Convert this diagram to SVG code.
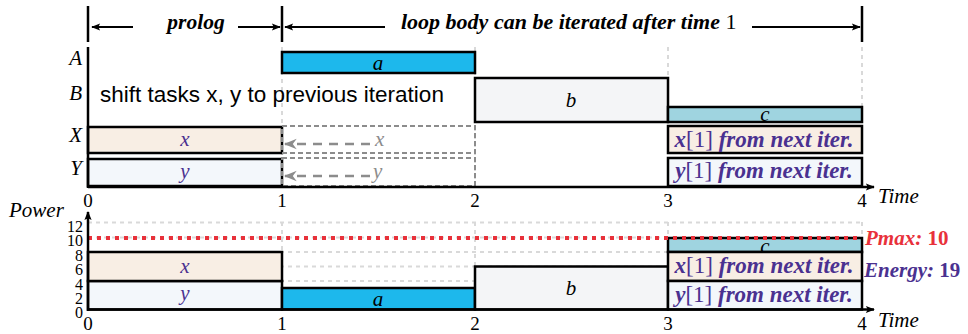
<svg xmlns="http://www.w3.org/2000/svg" width="968" height="334" viewBox="0 0 968 334">
<style>
.box{stroke:#000;stroke-width:2.5}
.grid{stroke:#d9d9d9;stroke-width:2;stroke-dasharray:4 4;fill:none}
.dbox{stroke:#8c8c8c;stroke-width:2;stroke-dasharray:5 3;fill:none}
.axis{stroke:#000;stroke-width:2.5;fill:none}
</style>
<defs>
<marker id="ahs" viewBox="0 0 10 10" refX="9" refY="5" markerWidth="12" markerHeight="9" orient="auto" markerUnits="userSpaceOnUse">
<path d="M0,1 L10,5 L0,9 L2,5 z" fill="#000"/>
</marker>
<marker id="ahg" viewBox="0 0 10 10" refX="9" refY="5" markerWidth="13" markerHeight="13" orient="auto" markerUnits="userSpaceOnUse">
<path d="M0,1 L10,5 L0,9 L3,5 z" fill="#8c8c8c"/>
</marker>
</defs>

<!-- grid lines -->
<g id="grid">
<line class="grid" x1="282" y1="47" x2="282" y2="186"/>
<line class="grid" x1="475" y1="47" x2="475" y2="186"/>
<line class="grid" x1="668" y1="47" x2="668" y2="107"/>
<line class="grid" x1="862" y1="47" x2="862" y2="107"/>
<line class="grid" x1="88" y1="222.5" x2="862" y2="222.5"/>
<line class="grid" x1="88" y1="237.5" x2="862" y2="237.5"/>
<line class="grid" x1="88" y1="252" x2="862" y2="252"/>
<line class="grid" x1="88" y1="266.5" x2="862" y2="266.5"/>
<line class="grid" x1="88" y1="281" x2="862" y2="281"/>
<line class="grid" x1="282" y1="222" x2="282" y2="282"/>
<line class="grid" x1="475" y1="222" x2="475" y2="266"/>
<line class="grid" x1="668" y1="222" x2="668" y2="238"/>
<line class="grid" x1="862" y1="222" x2="862" y2="238"/>
</g>

<!-- header -->
<g id="header">
<line x1="88" y1="6" x2="88" y2="42" stroke="#000" stroke-width="2.5"/>
<line x1="282" y1="6" x2="282" y2="42" stroke="#000" stroke-width="2.5"/>
<line x1="862" y1="6" x2="862" y2="42" stroke="#000" stroke-width="2.5"/>
<text x="196" y="29" font-family="Liberation Serif" font-style="italic" font-weight="bold" font-size="21.5" text-anchor="middle">prolog</text>
<text x="401" y="29" font-family="Liberation Serif" font-size="22"><tspan font-style="italic" font-weight="bold">loop body can be iterated after time</tspan> 1</text>
</g>

<!-- top chart labels -->
<g id="top-labels" font-family="Liberation Serif" font-style="italic" font-size="21" text-anchor="end">
<text x="82" y="65">A</text>
<text x="82" y="100">B</text>
<text x="82" y="142">X</text>
<text x="82" y="175">Y</text>
</g>
<text x="100" y="102" font-family="Liberation Sans" font-size="22.5">shift tasks x, y to previous iteration</text>

<!-- top chart nodes -->
<g id="top-a">
<rect x="282" y="52" width="193" height="21" fill="#1db8ec" class="box"/>
<text x="378" y="70" font-family="Liberation Serif" font-style="italic" font-size="21" text-anchor="middle">a</text>
</g>
<g id="top-b">
<rect x="475" y="78" width="193" height="44" fill="#f4f5f7" class="box"/>
<text x="571" y="107" font-family="Liberation Serif" font-style="italic" font-size="21" text-anchor="middle">b</text>
</g>
<g id="top-c">
<rect x="668" y="107" width="194" height="15" fill="#9fd4e0" class="box"/>
<text x="765" y="121" font-family="Liberation Serif" font-style="italic" font-size="21" text-anchor="middle">c</text>
</g>
<g id="top-x">
<rect x="88" y="127" width="194" height="26" fill="#f8eee4" class="box"/>
<text x="185" y="146" font-family="Liberation Serif" font-style="italic" font-size="21" fill="#4a3190" text-anchor="middle">x</text>
</g>
<g id="top-y">
<rect x="88" y="159" width="194" height="27" fill="#f3f7fb" class="box"/>
<text x="185" y="178" font-family="Liberation Serif" font-style="italic" font-size="21" fill="#4a3190" text-anchor="middle">y</text>
</g>
<g id="top-x-shift">
<rect x="282" y="126" width="193" height="27" class="dbox"/>
<text x="375" y="146" font-family="Liberation Serif" font-style="italic" font-size="21" fill="#8c8c8c">x</text>
</g>
<g id="top-y-shift">
<rect x="282" y="158" width="193" height="28" class="dbox"/>
<text x="373" y="178" font-family="Liberation Serif" font-style="italic" font-size="21" fill="#8c8c8c">y</text>
</g>
<g id="top-x1">
<rect x="668" y="126" width="194" height="27" fill="#f8eee4" class="box"/>
<text x="764" y="147" font-family="Liberation Serif" font-size="23" fill="#4a3190" text-anchor="middle"><tspan font-style="italic" font-weight="bold">x</tspan>[1]<tspan font-style="italic" font-weight="bold"> from next iter.</tspan></text>
</g>
<g id="top-y1">
<rect x="668" y="158" width="194" height="28" fill="#f3f7fb" class="box"/>
<text x="764" y="178" font-family="Liberation Serif" font-size="23" fill="#4a3190" text-anchor="middle"><tspan font-style="italic" font-weight="bold">y</tspan>[1]<tspan font-style="italic" font-weight="bold"> from next iter.</tspan></text>
</g>

<!-- bottom chart labels -->
<text x="9" y="217" font-family="Liberation Serif" font-style="italic" font-size="21">Power</text>
<g id="power-ticks" font-family="Liberation Serif" font-size="16" text-anchor="end">
<text x="83" y="232">12</text>
<text x="83" y="246">10</text>
<text x="83" y="261">8</text>
<text x="83" y="275">6</text>
<text x="83" y="290">4</text>
<text x="83" y="304">2</text>
<text x="83" y="318">0</text>
</g>

<!-- bottom chart nodes -->
<g id="bot-y">
<rect x="88" y="281" width="194" height="28.5" fill="#f3f7fb" class="box"/>
<text x="185" y="300" font-family="Liberation Serif" font-style="italic" font-size="21" fill="#4a3190" text-anchor="middle">y</text>
</g>
<g id="bot-x">
<rect x="88" y="252" width="194" height="29" fill="#f8eee4" class="box"/>
<text x="185" y="273" font-family="Liberation Serif" font-style="italic" font-size="21" fill="#4a3190" text-anchor="middle">x</text>
</g>
<g id="bot-a">
<rect x="282" y="288" width="193" height="21.5" fill="#1db8ec" class="box"/>
<text x="378" y="306" font-family="Liberation Serif" font-style="italic" font-size="21" text-anchor="middle">a</text>
</g>
<g id="bot-b">
<rect x="475" y="266.5" width="193" height="43" fill="#f4f5f7" class="box"/>
<text x="571" y="295" font-family="Liberation Serif" font-style="italic" font-size="21" text-anchor="middle">b</text>
</g>
<g id="bot-c">
<rect x="668" y="238" width="194" height="14" fill="#9fd4e0" class="box"/>
<text x="765" y="253" font-family="Liberation Serif" font-style="italic" font-size="21" text-anchor="middle">c</text>
</g>
<g id="bot-x1">
<rect x="668" y="252" width="194" height="29" fill="#f8eee4" class="box"/>
<text x="764" y="273" font-family="Liberation Serif" font-size="23" fill="#4a3190" text-anchor="middle"><tspan font-style="italic" font-weight="bold">x</tspan>[1]<tspan font-style="italic" font-weight="bold"> from next iter.</tspan></text>
</g>
<g id="bot-y1">
<rect x="668" y="281" width="194" height="28.5" fill="#f3f7fb" class="box"/>
<text x="764" y="302" font-family="Liberation Serif" font-size="23" fill="#4a3190" text-anchor="middle"><tspan font-style="italic" font-weight="bold">y</tspan>[1]<tspan font-style="italic" font-weight="bold"> from next iter.</tspan></text>
</g>
<g id="pmax">
<line x1="88" y1="238" x2="862" y2="238" stroke="#e8313a" stroke-width="4" stroke-dasharray="4 5"/>
<text x="865" y="245" font-family="Liberation Serif" font-size="21" font-weight="bold" fill="#e8313a"><tspan font-style="italic">Pmax:</tspan> 10</text>
</g>
<g id="energy">
<text x="864" y="277" font-family="Liberation Serif" font-size="21" font-weight="bold" fill="#4a3190"><tspan font-style="italic">Energy:</tspan> 19</text>
</g>

<!-- axes and ticks -->
<g id="axes">
<line class="axis" x1="88" y1="47" x2="88" y2="188"/>
<line class="axis" x1="88" y1="187" x2="874" y2="187" marker-end="url(#ahs)"/>
<line class="axis" x1="88" y1="311" x2="88" y2="212" marker-end="url(#ahs)"/>
<line class="axis" x1="88" y1="309.5" x2="874" y2="309.5" marker-end="url(#ahs)"/>
</g>
<g id="time-ticks" font-family="Liberation Serif" font-size="19" text-anchor="middle">
<text x="88" y="207">0</text>
<text x="282" y="207">1</text>
<text x="475" y="207">2</text>
<text x="668" y="207">3</text>
<text x="862" y="207">4</text>
<text x="88" y="330">0</text>
<text x="282" y="330">1</text>
<text x="475" y="330">2</text>
<text x="668" y="330">3</text>
<text x="862" y="330">4</text>
</g>
<text x="878" y="203" font-family="Liberation Serif" font-style="italic" font-size="21">Time</text>
<text x="878" y="327" font-family="Liberation Serif" font-style="italic" font-size="21">Time</text>

<!-- connectors -->
<g id="connectors">
<line x1="133" y1="27" x2="92" y2="27" stroke="#000" stroke-width="2" marker-end="url(#ahs)"/>
<line x1="238" y1="27" x2="280" y2="27" stroke="#000" stroke-width="2" marker-end="url(#ahs)"/>
<line x1="385" y1="27" x2="285" y2="27" stroke="#000" stroke-width="2" marker-end="url(#ahs)"/>
<line x1="752" y1="27" x2="860" y2="27" stroke="#000" stroke-width="2" marker-end="url(#ahs)"/>
<line x1="370" y1="144" x2="285" y2="144" stroke="#8c8c8c" stroke-width="2.5" stroke-dasharray="9 7" marker-end="url(#ahg)"/>
<line x1="370" y1="176" x2="285" y2="176" stroke="#8c8c8c" stroke-width="2.5" stroke-dasharray="9 7" marker-end="url(#ahg)"/>
</g>
</svg>
